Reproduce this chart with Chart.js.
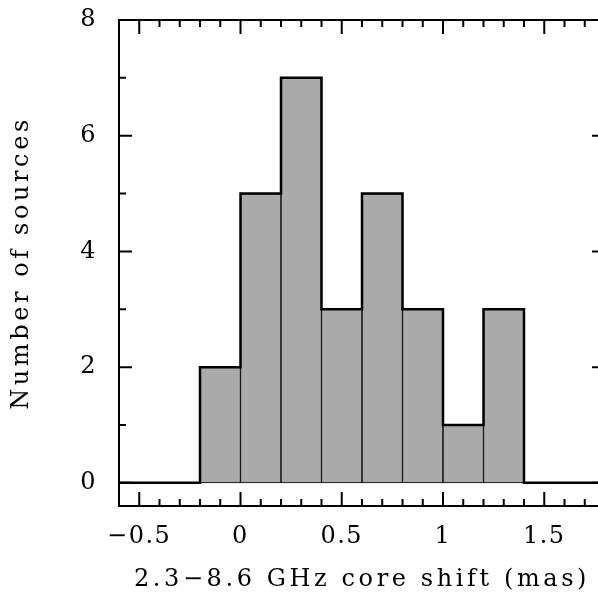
<!DOCTYPE html>
<html>
<head>
<meta charset="utf-8">
<script src="https://cdn.jsdelivr.net/npm/chart.js@4.4.0/dist/chart.umd.min.js"></script>
<style>
  html, body { margin: 0; padding: 0; background: #fff; overflow: hidden; }
  canvas { display: block; }
</style>
</head>
<body>
<canvas id="histChart" width="610" height="601"></canvas>
<script>
// histogram bins (width 0.2 mas)
const binCenters = [-0.1, 0.1, 0.3, 0.5, 0.7, 0.9, 1.1, 1.3];
const counts = [2, 5, 7, 3, 5, 3, 1, 3];
const binWidth = 0.2;
// empty stretches on either side, drawn at zero
const emptyLeft = [-0.6, -0.2];
const emptyRight = [1.4, 1.8];
const xTickValues = [-0.5, 0, 0.5, 1, 1.5];
const yTickValues = [0, 2, 4, 6, 8];
const xTitle = '2.3\u22128.6 GHz core shift (mas)';
const yTitle = 'Number of sources';

const fontFamily = '"DejaVu Serif", serif';

function fmt(v) {
    return v < 0 ? '\u2212' + Math.abs(v) : String(v);
}

// step outline: value held from each left edge to the next
const outline = [{ x: emptyLeft[0], y: 0 }];
binCenters.forEach((c, i) => outline.push({ x: c - binWidth / 2, y: counts[i] }));
outline.push({ x: emptyRight[0], y: 0 });
outline.push({ x: emptyRight[1], y: 0 });

// frame with inward ticks on all four sides, plus axis titles
const framePlugin = {
    id: 'frame',
    beforeDraw(chart) {
        chart.ctx.letterSpacing = '1.5px';
    },
    afterDraw(chart) {
        const c = chart.ctx;
        const xs = chart.scales.x, ys = chart.scales.y;
        const a = chart.chartArea;
        c.save();
        c.strokeStyle = '#000';
        c.lineWidth = 2;
        c.strokeRect(a.left, a.top, a.right - a.left, a.bottom - a.top);
        c.beginPath();
        for (let i = -6; i <= 18; i++) {
            const px = xs.getPixelForValue(i / 10);
            const len = (i % 5 === 0) ? 14 : 7;
            c.moveTo(px, a.bottom); c.lineTo(px, a.bottom - len);
            c.moveTo(px, a.top); c.lineTo(px, a.top + len);
        }
        for (let v = 0; v <= 8; v++) {
            const py = ys.getPixelForValue(v);
            const len = (v % 2 === 0) ? 13 : 7;
            c.moveTo(a.left, py); c.lineTo(a.left + len, py);
            c.moveTo(a.right, py); c.lineTo(a.right - len, py);
        }
        c.stroke();

        c.fillStyle = '#000';
        c.font = '24px ' + fontFamily;
        c.letterSpacing = '3.6px';
        c.textAlign = 'center';
        c.textBaseline = 'middle';
        c.fillText(xTitle, 362, 580);
        c.translate(22, (a.top + a.bottom) / 2);
        c.rotate(-Math.PI / 2);
        c.fillText(yTitle, 0, 0);
        c.restore();
    }
};

const ctx = document.getElementById('histChart').getContext('2d');
const histChart = new Chart(ctx, {
    type: 'bar',
    data: {
        datasets: [{
            type: 'bar',
            data: binCenters.map((x, i) => ({ x: x, y: counts[i] })),
            backgroundColor: '#aaaaaa',
            borderColor: '#000',
            borderWidth: 1,
            borderSkipped: false,
            barPercentage: 1,
            categoryPercentage: 1,
            order: 2
        }, {
            type: 'line',
            data: outline,
            stepped: 'before',
            borderColor: '#000',
            borderWidth: 2.5,
            pointRadius: 0,
            fill: false,
            order: 1
        }]
    },
    options: {
        responsive: false,
        devicePixelRatio: 1,
        animation: false,
        layout: { padding: { top: 20, right: 5, left: 0, bottom: 0 } },
        plugins: { legend: { display: false }, tooltip: { enabled: false } },
        scales: {
            x: {
                type: 'linear',
                min: -0.6,
                max: 1.8,
                offset: false,
                grid: { display: false, drawTicks: false },
                border: { display: false },
                afterBuildTicks: s => { s.ticks = xTickValues.map(v => ({ value: v })); },
                afterFit: s => { s.height = 95; s.paddingLeft = 0; s.paddingRight = 0; },
                ticks: {
                    color: '#000',
                    padding: 16,
                    maxRotation: 0,
                    font: { family: fontFamily, size: 24 },
                    callback: v => fmt(v)
                }
            },
            y: {
                min: -0.4,
                max: 8,
                grid: { display: false, drawTicks: false },
                border: { display: false },
                afterBuildTicks: s => { s.ticks = yTickValues.map(v => ({ value: v })); },
                afterFit: s => { s.width = 119; s.paddingTop = 0; s.paddingBottom = 0; },
                ticks: {
                    color: '#000',
                    padding: 22,
                    font: { family: fontFamily, size: 24 },
                    callback: v => fmt(v)
                }
            }
        }
    },
    plugins: [framePlugin]
});
</script>
</body>
</html>
